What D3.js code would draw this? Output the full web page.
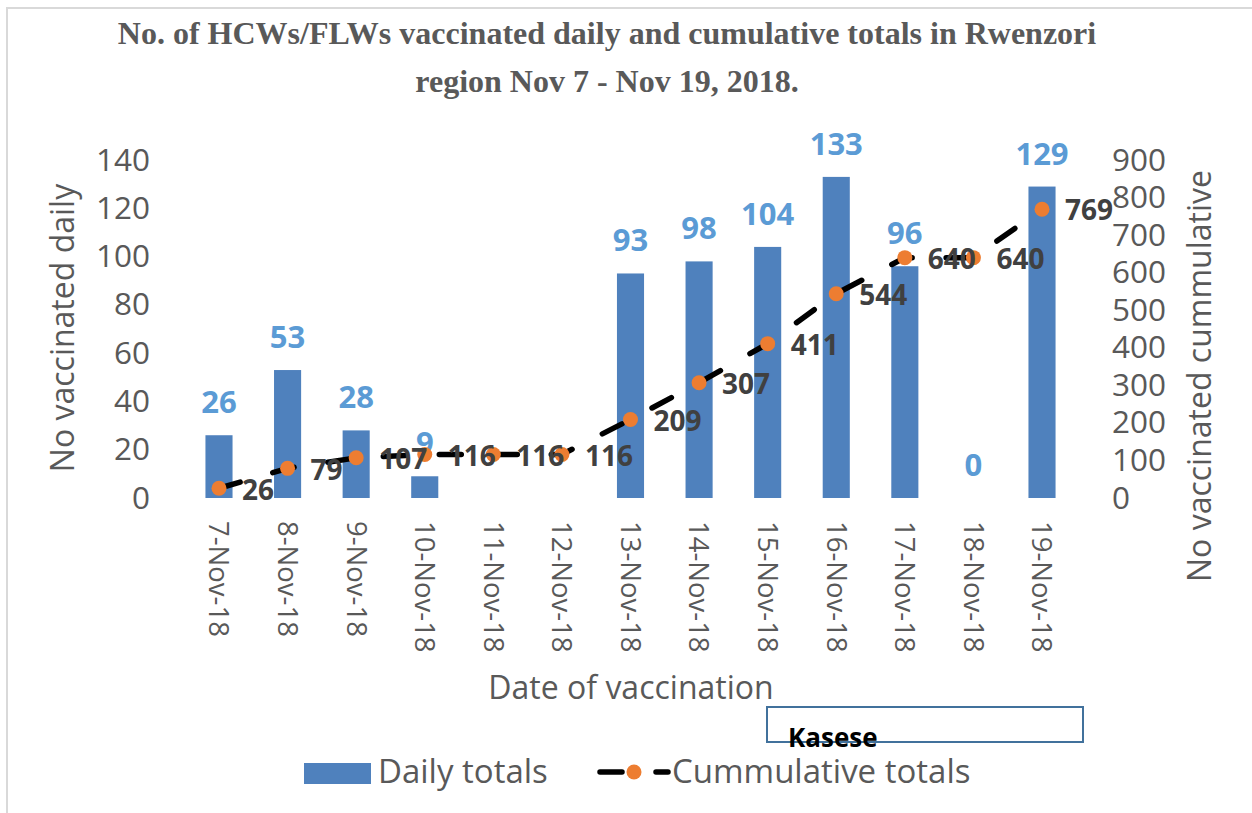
<!DOCTYPE html>
<html><head><meta charset="utf-8">
<script src="https://cdn.jsdelivr.net/npm/d3@7"></script>
<style>html,body{margin:0;padding:0;background:#fff;}svg{display:block;}</style>
</head><body>
<svg id="chart" width="1252" height="813"></svg>
<script>
const categories = ["7-Nov-18","8-Nov-18","9-Nov-18","10-Nov-18","11-Nov-18","12-Nov-18","13-Nov-18","14-Nov-18","15-Nov-18","16-Nov-18","17-Nov-18","18-Nov-18","19-Nov-18"];
const dailyTotals = [26,53,28,9,null,null,93,98,104,133,96,0,129];
const cumulativeTotals = [26,79,107,116,116,116,209,307,411,544,640,640,769];
const leftTicks = [0,20,40,60,80,100,120,140];
const rightTicks = [0,100,200,300,400,500,600,700,800,900];
const titleLines = ["No. of HCWs/FLWs vaccinated daily and cumulative totals in Rwenzori","region Nov 7 - Nov 19, 2018."];

const svg = d3.select("#chart");
const font = "'Open Sans', sans-serif";
const grey = "#595959";

svg.append("rect").attr("x",7).attr("y",8).attr("width",1300).attr("height",900)
  .attr("fill","none").attr("stroke","#d9d9d9").attr("stroke-width",2);

const x = d3.scaleBand().domain(categories).range([184.7,1076.3]).paddingInner(0.605).paddingOuter(0.3025);
const yL = d3.scaleLinear().domain([0,140]).range([498,160]);
const yR = d3.scaleLinear().domain([0,900]).range([498,160]);
const cx = d => x(d) + x.bandwidth()/2;

// title
svg.append("g").selectAll("text").data(titleLines).join("text")
  .attr("x",607).attr("y",(d,i)=> i===0 ? 44 : 92)
  .attr("text-anchor","middle").attr("font-family","'Liberation Serif', 'Times New Roman', serif")
  .attr("font-weight","bold").attr("font-size",32).attr("fill",grey).text(d=>d);

// axes
const gL = svg.append("g").attr("transform","translate(150,0)")
  .call(d3.axisLeft(yL).tickValues(leftTicks).tickSize(0).tickPadding(0));
const gR = svg.append("g").attr("transform","translate(1112,0)")
  .call(d3.axisRight(yR).tickValues(rightTicks).tickSize(0).tickPadding(0));
[gL,gR].forEach(g=>{
  g.select(".domain").remove();
  g.selectAll("text").attr("font-family",font).attr("font-size",31.5).attr("fill",grey);
});
const gX = svg.append("g").attr("transform","translate(0,498)")
  .call(d3.axisBottom(x).tickSize(0).tickPadding(0));
gX.select(".domain").remove();
gX.selectAll("text").attr("transform","rotate(90)").attr("x",23).attr("y",0).attr("dy","0.35em")
  .attr("text-anchor","start").attr("font-family",font).attr("font-size",27.5).attr("fill",grey);

// axis titles
svg.append("text").attr("transform","translate(63,328) rotate(-90)").attr("dy","0.35em")
  .attr("text-anchor","middle").attr("font-family",font).attr("font-size",32).attr("fill",grey)
  .text("No vaccinated daily");
svg.append("text").attr("transform","translate(1200,376) rotate(-90)").attr("dy","0.35em")
  .attr("text-anchor","middle").attr("font-family",font).attr("font-size",32).attr("fill",grey)
  .text("No vaccinated cummulative");
svg.append("text").attr("x",631).attr("y",699).attr("text-anchor","middle")
  .attr("font-family",font).attr("font-size",32).attr("fill",grey).text("Date of vaccination");

// bars
const barData = categories.map((c,i)=>({c, v: dailyTotals[i]}));
svg.append("g").selectAll("rect").data(barData.filter(d=>d.v!==null)).join("rect")
  .attr("x",d=>x(d.c)).attr("width",x.bandwidth())
  .attr("y",d=>yL(d.v)).attr("height",d=>yL(0)-yL(d.v)).attr("fill","#4f81bd");

// line
const lineData = categories.map((c,i)=>({c, v: cumulativeTotals[i]}));
const line = d3.line().x(d=>cx(d.c)).y(d=>yR(d.v));
svg.append("path").datum(lineData).attr("d",line).attr("fill","none")
  .attr("stroke","#000").attr("stroke-width",5.5).attr("stroke-linecap","round")
  .attr("stroke-dasharray","22,34");

// bar labels
svg.append("g").selectAll("text").data(barData.filter(d=>d.v!==null)).join("text")
  .attr("x",d=>cx(d.c)).attr("y",d=>yL(d.v)-22).attr("text-anchor","middle")
  .attr("font-family",font).attr("font-weight","bold").attr("font-size",31).attr("fill","#5b9bd5")
  .text(d=>d.v);

// markers
svg.append("g").selectAll("circle").data(lineData).join("circle")
  .attr("cx",d=>cx(d.c)).attr("cy",d=>yR(d.v)).attr("r",7.5).attr("fill","#ed7d31");

// cumulative labels
svg.append("g").selectAll("text").data(lineData).join("text")
  .attr("x",d=>cx(d.c)+23).attr("y",d=>yR(d.v)+1.5).attr("dy","0.35em")
  .attr("font-family",font).attr("font-weight","bold").attr("font-size",28).attr("fill","#404040")
  .text(d=>d.v);

// Kasese box
svg.append("rect").attr("x",767).attr("y",707).attr("width",316).attr("height",35)
  .attr("fill","none").attr("stroke","#41719c").attr("stroke-width",2);
svg.append("text").attr("x",788).attr("y",747).attr("font-family",font).attr("font-weight","bold")
  .attr("font-size",26).attr("fill","#000").text("Kasese");

// legend
const lg = svg.append("g");
lg.append("rect").attr("x",304).attr("y",763).attr("width",67).attr("height",21).attr("fill","#4f81bd");
lg.append("text").attr("x",378).attr("y",783).attr("font-family",font).attr("font-size",33).attr("fill",grey).text("Daily totals");
lg.append("line").attr("x1",600).attr("x2",668).attr("y1",772).attr("y2",772)
  .attr("stroke","#000").attr("stroke-width",5.5).attr("stroke-linecap","round").attr("stroke-dasharray","22,34");
lg.append("circle").attr("cx",634).attr("cy",772).attr("r",7.5).attr("fill","#ed7d31");
lg.append("text").attr("x",672).attr("y",783).attr("font-family",font).attr("font-size",33).attr("fill",grey).text("Cummulative totals");
</script>
</body></html>
